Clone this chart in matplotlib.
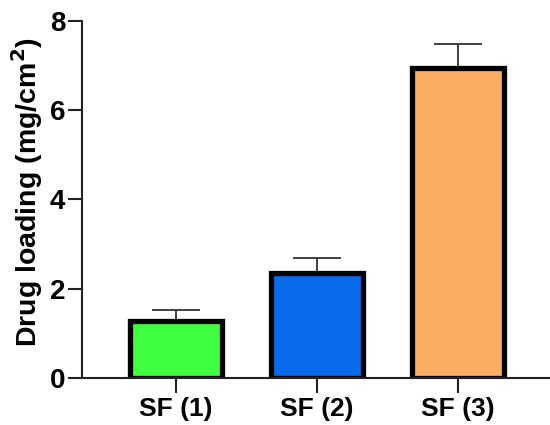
import matplotlib
matplotlib.use("Agg")
import matplotlib.pyplot as plt

categories = ["SF (1)", "SF (2)", "SF (3)"]
values = [1.27, 2.36, 6.94]
errors = [0.24, 0.32, 0.55]
colors = ["#40FF40", "#076BEB", "#FBAE62"]
yticks = [0, 2, 4, 6, 8]

plt.rcParams['font.family'] = ['Liberation Sans', 'DejaVu Sans']
plt.rcParams['font.weight'] = 'bold'
plt.rcParams['mathtext.default'] = 'bf'

fig = plt.figure(figsize=(5.5, 4.25), dpi=100)
ax = fig.add_axes([0.149, 0.111, 0.851, 0.840])

x = list(range(len(categories)))
ax.errorbar(x, values, yerr=[[0]*len(values), errors], fmt='none',
            ecolor='#333333', elinewidth=1.3, capsize=17, capthick=1.3, zorder=1)
ax.bar(x, values, width=0.65, color=colors, edgecolor='black', linewidth=3.8, zorder=2)

ax.set_xlim(-0.667, 2.652)
ax.set_ylim(0, 8)
ax.set_yticks(yticks)
ax.set_xticks(x)
ax.set_xticklabels(categories, fontsize=19, fontweight='bold')
ax.set_yticklabels([str(t) for t in yticks], fontsize=20, fontweight='bold')
ax.set_ylabel("Drug loading (mg/cm$^\\mathbf{2}$)", fontsize=20.5, fontweight='bold')
ax.yaxis.set_label_coords(-0.08, 0.52)

for s in ['top', 'right']:
    ax.spines[s].set_visible(False)
for s in ['left', 'bottom']:
    ax.spines[s].set_linewidth(1.5)
    ax.spines[s].set_color('#222222')
ax.tick_params(axis='both', direction='out', width=1.5, length=10, color='#222222', pad=2)
ax.tick_params(axis='x', length=11, pad=3)

fig.savefig("out.png", dpi=100)
